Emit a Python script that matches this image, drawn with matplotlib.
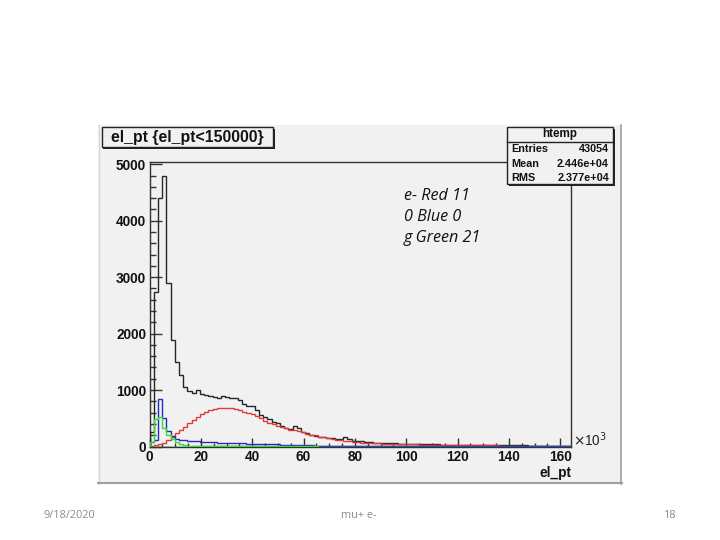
import numpy as np
import matplotlib
matplotlib.use("Agg")
import matplotlib.pyplot as plt
from matplotlib.patches import Rectangle
from matplotlib.lines import Line2D
from matplotlib.ticker import MultipleLocator

# ---------------- data (counts per bin, 100 bins over 0..164 x10^3) ----------------
x_range = (0, 164)
n_bins = 100

total_counts = [250, 2740, 4400, 4800, 2890, 1880, 1500, 1270, 1050, 990,
                940, 1000, 930, 910, 900, 880, 865, 890, 870, 865,
                860, 820, 750, 720, 720, 650, 560, 530, 480, 440,
                410, 360, 320, 310, 360, 320, 260, 240, 210, 190,
                165, 165, 150, 150, 135, 140, 160, 130, 105, 95,
                90, 76, 72, 68, 65, 62, 60, 58, 56, 52,
                50, 48, 45, 43, 41, 40, 38, 37, 36, 35,
                34, 33, 32, 31, 30, 29, 28, 27, 26, 25,
                24, 24, 23, 22, 22, 21, 20, 19, 18, 18,
                17, 16, 15, 15, 14, 13, 12, 12, 11, 10]

red_counts = [10, 25, 40, 60, 120, 175, 240, 295, 350, 410,
              470, 530, 580, 610, 640, 670, 690, 690, 685, 680,
              670, 650, 620, 600, 570, 540, 500, 460, 410, 390,
              360, 340, 320, 300, 300, 280, 250, 230, 210, 195,
              175, 160, 145, 130, 120, 115, 105, 95, 85, 75,
              70, 65, 60, 57, 55, 52, 50, 48, 46, 44,
              42, 40, 38, 36, 35, 33, 32, 31, 30, 29,
              28, 27, 26, 25, 24, 23, 22, 21, 20, 20,
              19, 18, 18, 17, 16, 16, 15, 14, 14, 13,
              12, 12, 11, 10, 10, 9, 9, 8, 8, 7]

blue_counts = [80, 110, 850, 500, 280, 180, 140, 120, 110, 100,
               95, 90, 85, 80, 75, 72, 70, 68, 66, 64,
               60, 58, 55, 52, 50, 48, 45, 42, 40, 38,
               36, 33, 30, 28, 26, 24, 22, 20, 18, 16,
               15, 14, 13, 12, 11, 10, 9, 9, 8, 8,
               7, 7, 6, 6, 6, 5, 5, 5, 4, 4,
               4, 4, 3, 3, 3, 3, 3, 3, 2, 2,
               2, 2, 2, 2, 2, 2, 2, 1, 1, 1,
               1, 1, 1, 1, 1, 1, 1, 1, 1, 1,
               1, 1, 1, 1, 1, 1, 1, 1, 1, 1]

green_counts = [80, 480, 530, 320, 200, 130, 80, 45, 25, 15,
                10, 8, 6, 5, 4, 4, 3, 3, 3, 2,
                2, 2, 2, 2, 2, 1, 1, 1, 1, 1,
                1, 1, 1, 1, 1, 1, 1, 1, 1, 1,
                0, 0, 0, 0, 0, 0, 0, 0, 0, 0,
                0, 0, 0, 0, 0, 0, 0, 0, 0, 0,
                0, 0, 0, 0, 0, 0, 0, 0, 0, 0,
                0, 0, 0, 0, 0, 0, 0, 0, 0, 0,
                0, 0, 0, 0, 0, 0, 0, 0, 0, 0,
                0, 0, 0, 0, 0, 0, 0, 0, 0, 0]

darkgreen_counts = [0, 0, 0, 0, 0, 0, 0, 0, 0, 0,
                    5, 8, 10, 12, 12, 12, 13, 12, 12, 12,
                    12, 11, 11, 11, 10, 10, 10, 10, 9, 9,
                    9, 9, 8, 8, 8, 8, 8, 7, 7, 7,
                    7, 7, 6, 6, 6, 6, 5, 5, 5, 5,
                    5, 5, 4, 4, 4, 4, 4, 4, 3, 3,
                    0, 0, 0, 0, 0, 0, 0, 0, 0, 0,
                    0, 0, 0, 0, 0, 0, 0, 0, 0, 0,
                    0, 0, 0, 0, 0, 0, 0, 0, 0, 0,
                    0, 0, 0, 0, 0, 0, 0, 0, 0, 0]

cyan_counts = [0] * 60 + [3, 3, 3, 3, 3, 3, 3, 3, 3, 3,
                          3, 3, 3, 3, 3, 3, 3, 3, 3, 3,
                          3, 3, 3, 3, 3, 3, 3, 3, 3, 3,
                          3, 3, 3, 3, 3, 3, 3, 3, 3, 3]

x_tick_labels = ["0", "20", "40", "60", "80", "100", "120", "140", "160"]
y_tick_labels = ["0", "1000", "2000", "3000", "4000", "5000"]

title_text = "el_pt {el_pt<150000}"
stats_name = "htemp"
stats_rows = [("Entries", "43054"), ("Mean", "2.446e+04"), ("RMS", "2.377e+04")]
legend_lines = ["e- Red 11", "0 Blue 0", "g Green 21"]
footer_left, footer_mid, footer_right = "9/18/2020", "mu+ e-", "18"

# ---------------- figure ----------------
W, H = 720, 540
fig = plt.figure(figsize=(7.2, 5.4), dpi=100)
fig.patch.set_facecolor("white")


def fx(x):
    return x / W


def fy(y):
    return 1 - y / H


CANVAS = "#f1f1f1"
# ROOT canvas
fig.add_artist(Rectangle((fx(98), fy(484)), fx(622) - fx(98), fy(125) - fy(484),
                         transform=fig.transFigure, facecolor=CANVAS,
                         edgecolor="none", zorder=-2))
# bevel edges
fig.add_artist(Line2D([fx(98.5), fx(98.5)], [fy(484), fy(125)], transform=fig.transFigure,
                      color="#d8d8d8", lw=1, zorder=-1))
fig.add_artist(Line2D([fx(621), fx(621)], [fy(484), fy(125)], transform=fig.transFigure,
                      color="#a0a0a0", lw=1.2, zorder=-1))
fig.add_artist(Line2D([fx(98), fx(622)], [fy(483), fy(483)], transform=fig.transFigure,
                      color="#a0a0a0", lw=1.5, zorder=-1))

ax_left, ax_right, ax_bottom, ax_top = 149.5, 570.5, 446.5, 162.0
ax = fig.add_axes([fx(ax_left), fy(ax_bottom), (ax_right - ax_left) / W,
                   (ax_bottom - ax_top) / H])
ax.set_facecolor(CANVAS)
ax.set_xlim(*x_range)
ax.set_ylim(0, 5040)

edges = np.linspace(x_range[0], x_range[1], n_bins + 1)
ax.stairs(cyan_counts, edges, color="#30c8c8", lw=1.0, zorder=2)
ax.stairs(darkgreen_counts, edges, color="#1f8a1f", lw=1.0, zorder=2)
ax.stairs(total_counts, edges, color="#262626", lw=1.0, zorder=3)
ax.stairs(red_counts, edges, color="#e03a3a", lw=1.0, zorder=4)
ax.stairs(blue_counts, edges, color="#2828c8", lw=1.0, zorder=4)
ax.stairs(green_counts, edges, color="#33dd33", lw=1.0, zorder=4)

for s in ax.spines.values():
    s.set_color("#333333")
    s.set_linewidth(1.0)

ax.xaxis.set_major_locator(MultipleLocator(20))
ax.xaxis.set_minor_locator(MultipleLocator(5))
ax.yaxis.set_major_locator(MultipleLocator(1000))
ax.yaxis.set_minor_locator(MultipleLocator(200))
ax.set_xticks(np.arange(0, 161, 20))
ax.set_xticklabels(x_tick_labels)
ax.set_yticks(np.arange(0, 5001, 1000))
ax.set_yticklabels(y_tick_labels)

ax.tick_params(axis="y", which="major", direction="in", length=8.6, width=1,
               color="#333333", pad=2.5, labelsize=9.8)
ax.tick_params(axis="y", which="minor", direction="in", length=4.6, width=1,
               color="#333333")
ax.tick_params(axis="x", which="major", direction="in", length=6.5, width=1,
               color="#333333", pad=2.5, labelsize=9.8)
ax.tick_params(axis="x", which="minor", direction="in", length=3.2, width=1,
               color="#333333")
ax.tick_params(top=False, right=False, which="both")
for lbl in ax.get_xticklabels() + ax.get_yticklabels():
    lbl.set_fontweight("bold")
    lbl.set_family("Liberation Sans")
    lbl.set_color("#111111")

# x10^3 and axis title
fig.text(fx(573), fy(440), r"$\times$10$^{3}$", fontsize=9.8, family="Liberation Sans",
         ha="left", va="center", color="#222222")
fig.text(fx(571), fy(472.5), "el_pt", fontsize=9.8, family="Liberation Sans",
         fontweight="bold", ha="right", va="center", color="#111111")

# title box (with shadow)
tb = (101.5, 127, 273, 147)
fig.add_artist(Rectangle((fx(tb[0]) + 2 / W, fy(tb[3]) - 2 / H), fx(tb[2]) - fx(tb[0]),
                         fy(tb[1]) - fy(tb[3]), transform=fig.transFigure,
                         facecolor="#222222", edgecolor="none", zorder=5))
fig.add_artist(Rectangle((fx(tb[0]), fy(tb[3])), fx(tb[2]) - fx(tb[0]),
                         fy(tb[1]) - fy(tb[3]), transform=fig.transFigure,
                         facecolor=CANVAS, edgecolor="#222222", lw=1.0, zorder=6))
fig.text(fx((tb[0] + tb[2]) / 2), fy(137.5), title_text, fontsize=11.4,
         family="Liberation Sans", fontweight="bold", ha="center", va="center",
         color="#111111", zorder=7)

# stats box
sb = (507, 127, 613, 184)
fig.add_artist(Rectangle((fx(sb[0]) + 2 / W, fy(sb[3]) - 2 / H), fx(sb[2]) - fx(sb[0]),
                         fy(sb[1]) - fy(sb[3]), transform=fig.transFigure,
                         facecolor="#222222", edgecolor="none", zorder=5))
fig.add_artist(Rectangle((fx(sb[0]), fy(sb[3])), fx(sb[2]) - fx(sb[0]),
                         fy(sb[1]) - fy(sb[3]), transform=fig.transFigure,
                         facecolor=CANVAS, edgecolor="#222222", lw=1.0, zorder=6))
fig.add_artist(Line2D([fx(sb[0]), fx(sb[2])], [fy(141.5), fy(141.5)],
                      transform=fig.transFigure, color="#222222", lw=1.0, zorder=7))
fig.text(fx((sb[0] + sb[2]) / 2), fy(134.2), stats_name, fontsize=8.4,
         family="Liberation Sans", fontweight="bold", ha="center", va="center",
         color="#111111", zorder=8)
for i, (k, v) in enumerate(stats_rows):
    yy = 149.5 + i * 14.3
    fig.text(fx(511.5), fy(yy), k, fontsize=7.8, family="Liberation Sans",
             fontweight="bold", ha="left", va="center", color="#111111", zorder=8)
    fig.text(fx(609), fy(yy), v, fontsize=7.8, family="Liberation Sans",
             fontweight="bold", ha="right", va="center", color="#111111", zorder=8)

# annotation text (colour legend)
for i, t in enumerate(legend_lines):
    fig.text(fx(404), fy(196 + i * 21), t, fontsize=11.6, family="Open Sans",
             style="italic", ha="left", va="center", color="#111111", zorder=8)

# slide footer
fig.text(fx(43), fy(515), footer_left, fontsize=7.8, family="Open Sans",
         ha="left", va="center", color="#8a8a8a")
fig.text(fx(359), fy(515), footer_mid, fontsize=7.8, family="Open Sans",
         ha="center", va="center", color="#8a8a8a")
fig.text(fx(677), fy(515), footer_right, fontsize=7.8, family="Open Sans",
         ha="right", va="center", color="#8a8a8a")

fig.savefig("out.png", dpi=100, facecolor="white")
